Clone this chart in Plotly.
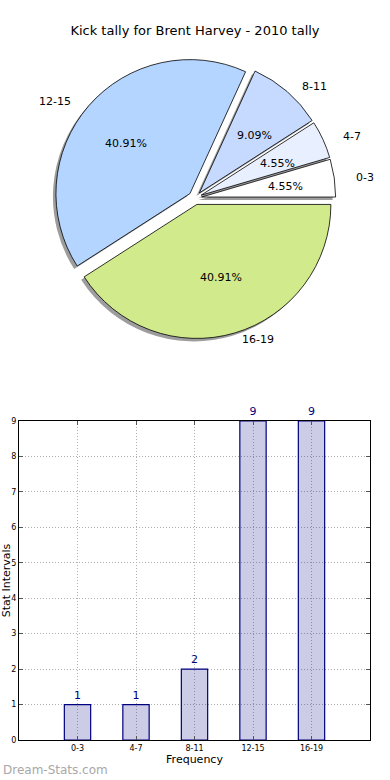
import math
import plotly.graph_objects as go

# ---- data ----
categories = ["0-3", "4-7", "8-11", "12-15", "16-19"]
counts = [1, 1, 2, 9, 9]
pie_colors = ["#ffffff", "#e8f0ff", "#c6d9ff", "#b3d5ff", "#d0ea8c"]
y_ticks = [0, 1, 2, 3, 4, 5, 6, 7, 8, 9]

W, H = 390, 780
FONT = "DejaVu Sans"

def px(x):
    return x / W

def py(y):
    return 1 - y / H

total = sum(counts)
# plotly's counterclockwise pies end the first slice at `rotation`;
# shift so the first slice starts at 3 o'clock like matplotlib
rot = 90 - 360.0 * counts[0] / total

# pie geometry (pixels)
cx, cy = 195, 198
r = 134
pull = 0.05
half = r * (1 + pull)

fig = go.Figure()

# shadow pie
fig.add_trace(go.Pie(
    labels=categories, values=counts, sort=False,
    direction="counterclockwise", rotation=rot,
    pull=[pull] * len(counts),
    marker=dict(colors=["rgba(60,60,60,0.5)"] * len(counts), line=dict(width=0)),
    textinfo="none", hoverinfo="skip", showlegend=False,
    domain=dict(x=[px(cx - 3 - half), px(cx - 3 + half)],
                y=[py(cy + 3 + half), py(cy + 3 - half)]),
))

# main pie
fig.add_trace(go.Pie(
    labels=categories, values=counts, sort=False,
    direction="counterclockwise", rotation=rot,
    pull=[pull] * len(counts),
    marker=dict(colors=pie_colors, line=dict(color="#000000", width=0.8)),
    textinfo="none", showlegend=False,
    domain=dict(x=[px(cx - half), px(cx + half)],
                y=[py(cy + half), py(cy - half)]),
))

# pie labels (matplotlib style: label at 1.1 r, percentage at 0.6 r)
rx, ry = 140, 128
annotations = []
start = 0.0
for cat, v in zip(categories, counts):
    frac = v / total
    tm = math.radians((start + frac / 2) * 360)
    start += frac
    c, s = math.cos(tm), math.sin(tm)
    lx = cx + (1.1 + pull) * rx * c
    ly = cy - (1.1 + pull) * ry * s
    annotations.append(dict(
        x=px(lx), y=py(ly), xref="paper", yref="paper", text=cat,
        showarrow=False, xanchor="left" if c > 0 else "right", yanchor="middle",
        font=dict(family=FONT, size=11, color="#000000")))
    tx = cx + (0.6 + pull) * rx * c
    ty = cy - (0.6 + pull) * ry * s
    annotations.append(dict(
        x=px(tx), y=py(ty), xref="paper", yref="paper",
        text="%.2f%%" % (100 * frac),
        showarrow=False, xanchor="center", yanchor="middle",
        font=dict(family=FONT, size=11, color="#000000")))

# bar chart
fig.add_trace(go.Bar(
    x=categories, y=counts, width=0.45,
    marker=dict(color="rgba(0,0,128,0.2)", line=dict(color="#000080", width=1.2)),
    text=[str(v) for v in counts], textposition="outside",
    textfont=dict(family=FONT, size=11, color="#000080"),
    cliponaxis=False, showlegend=False, xaxis="x", yaxis="y",
))

annotations.append(dict(
    x=px(1), y=py(770), xref="paper", yref="paper", text="Dream-Stats.com",
    showarrow=False, xanchor="left", yanchor="middle",
    font=dict(family=FONT, size=12, color="#a8a8a8")))

grid_dash = "1px,2px"

fig.update_layout(
    width=W, height=H, autosize=False,
    margin=dict(l=0, r=0, t=0, b=0),
    paper_bgcolor="white", plot_bgcolor="white",
    font=dict(family=FONT, color="#000000"),
    title=dict(text="Kick tally for Brent Harvey - 2010 tally",
               x=0.5, xanchor="center", y=py(30), yanchor="middle",
               font=dict(family=FONT, size=13, color="#000000")),
    xaxis=dict(
        domain=[px(19), px(370)], anchor="y",
        type="category", range=[-1, 5],
        showline=True, linecolor="#000000", linewidth=1, mirror="ticks",
        ticks="inside", ticklen=4, tickcolor="#555555",
        showgrid=True, gridcolor="#b0b0b0", griddash=grid_dash, gridwidth=1,
        tickfont=dict(family=FONT, size=8, color="#000000"),
        title=dict(text="Frequency", standoff=3,
                   font=dict(family=FONT, size=11, color="#000000")),
        automargin=False, zeroline=False, fixedrange=True,
    ),
    yaxis=dict(
        domain=[py(740), py(421)], anchor="x",
        range=[0, 9], tickvals=y_ticks,
        showline=True, linecolor="#000000", linewidth=1, mirror="ticks",
        ticks="inside", ticklen=4, tickcolor="#555555",
        showgrid=True, gridcolor="#b0b0b0", griddash=grid_dash, gridwidth=1,
        tickfont=dict(family=FONT, size=8, color="#000000"),
        title=dict(text="Stat Intervals", standoff=0,
                   font=dict(family=FONT, size=11, color="#000000")),
        automargin=False, zeroline=False, fixedrange=True,
    ),
    annotations=annotations,
)

fig.write_html("out.html",
               config={"displayModeBar": False},
               post_script="document.body.style.margin='0';document.body.style.padding='0';")
